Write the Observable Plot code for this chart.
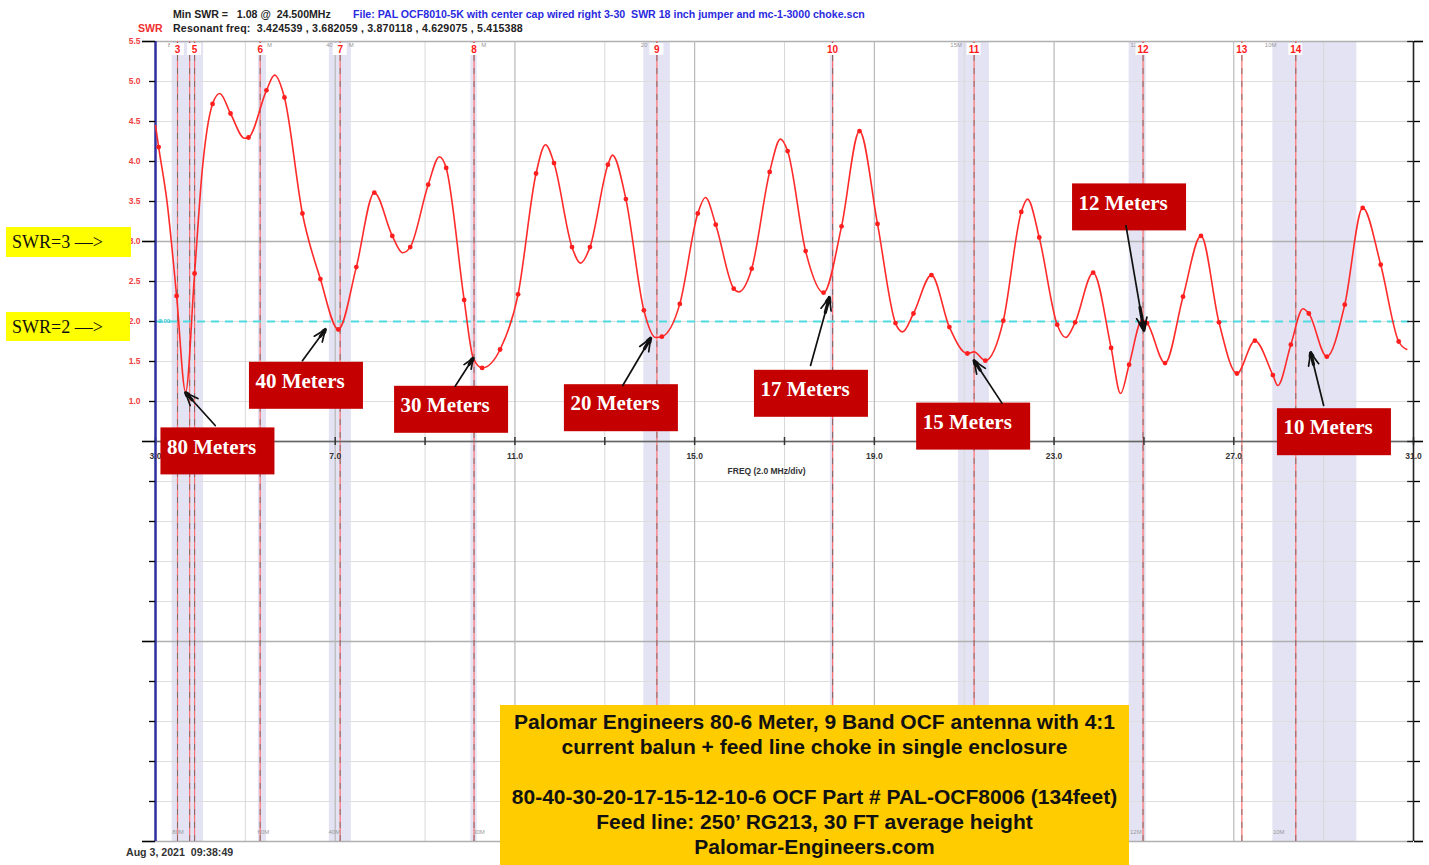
<!DOCTYPE html>
<html><head><meta charset="utf-8">
<script src="https://cdn.jsdelivr.net/npm/d3@7"></script>
<script src="https://cdn.jsdelivr.net/npm/@observablehq/plot@0.6"></script>
<style>
body{margin:0;background:#fff;overflow:hidden}
#wrap{position:relative;width:1429px;height:865px}
#wrap svg{position:absolute;left:0;top:0}
.ov{position:absolute;white-space:pre;line-height:1}
.hdr{font-family:"Liberation Sans",Arial,sans-serif;font-weight:bold;font-size:10.6px;color:#222}
.ybox{background:#ffff00;font-family:"Liberation Serif","Times New Roman",serif;font-size:18px;color:#111;box-sizing:border-box;padding-left:6px;display:flex;align-items:center}
#info{left:500px;top:705px;width:629px;height:160px;background:#ffcc00;font-family:"Liberation Sans Narrow","Liberation Sans",Arial,sans-serif;font-weight:bold;font-size:21px;color:#111;text-align:center;line-height:25px;padding-top:4px;box-sizing:border-box;white-space:normal}
</style></head><body><div id="wrap"></div>
<script>
// ---- SWR curve: sample points with dots
const dotFreq = [3.07,3.47,3.87,4.27,4.67,5.07,5.47,5.87,6.27,6.67,7.07,7.47,7.87,8.27,8.67,9.07,9.47,9.87,10.27,10.67,11.07,11.47,11.87,12.27,12.67,13.07,13.47,13.87,14.27,14.67,15.07,15.47,15.87,16.27,16.67,17.07,17.47,17.87,18.27,18.67,19.07,19.47,19.87,20.27,20.67,21.07,21.47,21.87,22.27,22.67,23.07,23.47,23.87,24.27,24.67,25.07,25.47,25.87,26.27,26.67,27.07,27.47,27.87,28.27,28.67,29.07,29.47,29.87,30.27,30.67];
const dotSwr  = [4.18,2.32,2.60,4.72,4.60,4.30,4.89,4.80,3.35,2.53,1.90,2.68,3.61,3.07,2.93,3.71,3.92,2.27,1.42,1.65,2.34,3.85,3.98,2.93,2.93,3.96,3.53,2.14,1.81,2.22,3.35,3.21,2.41,2.66,3.87,4.13,2.88,2.36,3.19,4.38,3.22,1.98,2.10,2.58,1.93,1.60,1.51,2.01,3.37,3.05,1.96,1.99,2.61,1.67,1.46,1.98,1.48,2.31,3.07,1.99,1.35,1.76,1.33,1.71,2.10,1.56,2.21,3.42,2.71,1.75];
// ---- turning points of the curve between the dots
const peakFreq = [3.00,3.26,3.67,4.04,4.43,4.98,5.65,8.50,9.32,10.07,11.68,12.46,13.17,14.13,15.24,15.98,16.91,19.63,21.22,22.41,23.26,24.48,24.96,27.98,28.54,30.85];
const peakSwr  = [4.45,3.48,1.12,3.89,4.85,4.29,5.08,2.86,4.06,1.55,4.21,2.73,4.08,1.80,3.55,2.37,4.28,1.87,1.62,3.53,1.80,1.10,2.02,1.20,2.16,1.65];

// ---- ham bands (shaded)
const bandLo = [3.37,5.29,6.87,10.02,13.87,18.02,20.87,24.67,27.87];
const bandHi = [4.07,5.47,7.36,10.16,14.46,18.11,21.56,25.05,29.74];
// ---- markers
const markerNum  = ["3","","5","6","7","8","9","10","11","12","13","14"];
const markerFreq = [3.49,3.76,3.87,5.33,7.11,10.09,14.16,18.07,21.22,24.98,27.18,28.38];
// ---- small band tags
const tagBottom = ["80M","60M","40M","30M","12M","10M"];
const tagBottomFreq = [3.50,5.40,6.98,10.20,24.82,28.00];
const tagTopL = ["80","40","20","15M","12","10M"];
const tagTopLFreq = [3.42,6.95,13.95,20.95,24.85,27.95];
const tagTopR = ["M","M","M"];
const tagTopRFreq = [5.48,7.30,10.25];

// ---- axes
const yMinor = [5.0,4.5,4.0,3.5,2.5,2.0,1.5,1.0,0.0,-0.5,-1.0,-1.5,-2.5,-3.0,-3.5,-4.0];
const yMajor = [5.5,3.0,0.5,-2.0,-4.5];
const yLabels = [5.5,5.0,4.5,4.0,3.5,3.0,2.5,2.0,1.5,1.0];
const xMinor = [5,9,13,17,21,25,29];
const xMajor = [7,11,15,19,23,27];
const xLabels = [3,7,11,15,19,23,27,31];
const xTicks = [3,5,7,9,11,13,15,17,19,21,23,25,27,29,31];

// ---- annotations
const bandName = ["80 Meters","40 Meters","30 Meters","20 Meters","17 Meters","15 Meters","12 Meters","10 Meters"];
const boxFreq = [4.39,6.36,9.59,13.37,17.60,21.21,24.68,29.24];
const boxSwr  = [0.37,1.19,0.89,0.91,1.09,0.68,3.42,0.61];
const arrowFromF = [4.33,6.27,9.67,13.40,17.58,21.84,24.60,29.00];
const arrowFromS = [0.70,1.51,1.19,1.20,1.45,0.98,3.20,0.95];
const arrowToF   = [3.67,6.78,10.07,14.02,18.00,21.22,25.00,28.71];
const arrowToS   = [1.11,1.90,1.54,1.79,2.30,1.51,1.89,1.61];

const dots = dotFreq.map((f,i)=>({f, s:dotSwr[i]}));
const curvePts = dots.concat(peakFreq.map((f,i)=>({f, s:peakSwr[i]}))).sort((a,b)=>a.f-b.f);
const bands = bandLo.map((lo,i)=>({lo, hi:bandHi[i]}));
const markers = markerFreq.map((f,i)=>({f, n:markerNum[i]}));
const labeled = markers.filter(d=>d.n!=="");
const boxes = bandName.map((t,i)=>({t, f:boxFreq[i], s:boxSwr[i]}));
const arrows = arrowFromF.map((f,i)=>({x1:f, y1:arrowFromS[i], x2:arrowToF[i], y2:arrowToS[i]}));
// short thick tip segments to make the heads look solid
const tips = arrows.map(a=>({x1:a.x2-(a.x2-a.x1)*0.22, y1:a.y2-(a.y2-a.y1)*0.22, x2:a.x2, y2:a.y2}));
const tagsB = tagBottom.map((t,i)=>({t, f:tagBottomFreq[i]}));
const tagsL = tagTopL.map((t,i)=>({t, f:tagTopLFreq[i]}));
const tagsR = tagTopR.map((t,i)=>({t, f:tagTopRFreq[i]}));

const sans = "'Liberation Sans', Arial, sans-serif";
const plot = Plot.plot({
  width:1429, height:865,
  marginLeft:155, marginRight:16, marginTop:41, marginBottom:24,
  x:{domain:[3,31], axis:null},
  y:{domain:[-4.5,5.5]},
  style:{fontFamily:sans, background:"transparent", overflow:"visible"},
  marks:[
    Plot.rect(bands,{x1:"lo", x2:"hi", y1:-4.5, y2:5.5, fill:"#e3e3f3"}),
    Plot.ruleY(yMinor,{stroke:"#dedede", strokeWidth:1.2}),
    Plot.ruleX(xMinor,{stroke:"#d8d8d8", strokeWidth:1}),
    Plot.ruleY(yMajor,{stroke:"#b0b0b0", strokeWidth:1.6}),
    Plot.ruleX(xMajor,{stroke:"#b8b8b8", strokeWidth:1.2}),
    Plot.ruleX(markers,{x:"f", y1:-4.5, y2:5.5, stroke:"#ff7070", strokeWidth:1.2}),
    Plot.ruleX(markers,{x:"f", y1:-4.5, y2:5.5, stroke:"#666", strokeWidth:1, strokeDasharray:"6,7", strokeOpacity:0.8}),
    Plot.ruleY([2],{stroke:"#4fdbe0", strokeWidth:2, strokeDasharray:"8,6"}),
    Plot.ruleY([0.5],{stroke:"#666", strokeWidth:1.6}),
    Plot.ruleX(xTicks,{x:d=>d, y1:0.45, y2:0.55, stroke:"#333", strokeWidth:1.5}),
    Plot.ruleX([3],{stroke:"#2e2e9e", strokeWidth:2.5}),
    Plot.ruleX([31],{stroke:"#222", strokeWidth:1.6}),
    Plot.axisY(yMinor,{anchor:"left", tickSize:6, tickFormat:()=>"", strokeWidth:1.3}),
    Plot.axisY(yMajor,{anchor:"left", tickSize:13, tickFormat:()=>"", strokeWidth:1.6}),
    Plot.axisY(yMinor,{anchor:"right", tickSize:6, tickFormat:()=>"", strokeWidth:1.3}),
    Plot.axisY(yMajor,{anchor:"right", tickSize:9, tickFormat:()=>"", strokeWidth:1.6}),
    Plot.ruleY(yMinor.concat(yMajor),{y:d=>d, x1:30.87, x2:31, stroke:"#222", strokeWidth:1.3}),
    Plot.text(yLabels,{x:3, y:d=>d, text:d=>d.toFixed(1), dx:-15, textAnchor:"end", fill:"#f04040", fontWeight:"bold", fontSize:8.5}),
    Plot.text(xLabels,{x:d=>d, y:0.5, dy:15, text:d=>d.toFixed(1), fill:"#333", fontWeight:"bold", fontSize:8.5}),
    Plot.text(["FREQ (2.0 MHz/div)"],{x:16.6, y:0.5, dy:30, text:d=>d, fill:"#333", fontWeight:"bold", fontSize:8.5}),
    Plot.text(["2.00"],{x:3, y:2, dx:3, text:d=>d, textAnchor:"start", fill:"#30c8d0", fontWeight:"bold", fontSize:6}),
    Plot.text(tagsB,{x:"f", y:-4.5, dy:-9, text:"t", fill:"#999", fontSize:6}),
    Plot.text(tagsL,{x:"f", y:5.5, dy:4, text:"t", textAnchor:"end", fill:"#999", fontSize:6}),
    Plot.text(tagsR,{x:"f", y:5.5, dy:4, text:"t", textAnchor:"start", fill:"#999", fontSize:6}),
    Plot.line(curvePts,{x:"f", y:"s", curve:"monotone-x", stroke:"#ff2b2b", strokeWidth:1.6}),
    Plot.dot(dots,{x:"f", y:"s", r:2.4, fill:"#ff1e1e", stroke:"none"}),
    Plot.rect(labeled,{x1:"f", x2:"f", y1:5.4, y2:5.4, insetLeft:-7, insetRight:-7, insetTop:-6, insetBottom:-6, fill:"white"}),
    Plot.text(labeled,{x:"f", y:5.4, text:"n", fill:"#ff1a1a", fontWeight:"bold", fontSize:10}),
    Plot.rect(boxes,{x1:"f", x2:"f", y1:"s", y2:"s", insetLeft:-57, insetRight:-57, insetTop:-24, insetBottom:-23, fill:"#c50000"}),
    Plot.text(boxes,{x:"f", y:"s", text:"t", dx:-51, dy:-5, textAnchor:"start", fill:"white", fontFamily:"'Liberation Serif','DejaVu Serif',serif", fontWeight:"bold", fontSize:21}),
    Plot.arrow(arrows,{x1:"x1", y1:"y1", x2:"x2", y2:"y2", stroke:"#111", strokeWidth:1.7, headLength:12, headAngle:45}),
    Plot.arrow(tips,{x1:"x1", y1:"y1", x2:"x2", y2:"y2", stroke:"#111", strokeWidth:3.2, headLength:9, headAngle:40})
  ]
});
const wrap = document.getElementById("wrap");
wrap.appendChild(plot);

function ov(text, css, cls){
  const d = document.createElement("div");
  d.className = "ov " + (cls||"");
  d.textContent = text;
  Object.assign(d.style, css);
  wrap.appendChild(d);
  return d;
}
ov("Min SWR =   1.08 @  24.500MHz",{left:"173px",top:"9px"},"hdr");
ov("File: PAL OCF8010-5K with center cap wired right 3-30  SWR 18 inch jumper and mc-1-3000 choke.scn",{left:"353px",top:"9px",color:"#2a2ae0"},"hdr");
ov("SWR",{left:"138px",top:"23px",color:"#f03030"},"hdr");
ov("Resonant freq:  3.424539 , 3.682059 , 3.870118 , 4.629075 , 5.415388",{left:"173px",top:"23px",letterSpacing:"0.2px"},"hdr");
ov("Aug 3, 2021  09:38:49",{left:"126px",top:"847px",color:"#333"},"hdr");
ov("SWR=3 —>",{left:"6px",top:"227px",width:"125px",height:"30px"},"ybox");
ov("SWR=2 —>",{left:"6px",top:"312px",width:"124px",height:"29px"},"ybox");
const info = document.createElement("div");
info.id = "info"; info.className = "ov";
["Palomar Engineers 80-6 Meter, 9 Band OCF antenna with 4:1","current balun + feed line choke in single enclosure","\u00a0","80-40-30-20-17-15-12-10-6 OCF Part # PAL-OCF8006 (134feet)","Feed line: 250\u2019 RG213, 30 FT average height","Palomar-Engineers.com"].forEach(t=>{
  const l = document.createElement("div"); l.textContent = t; info.appendChild(l);
});
wrap.appendChild(info);
</script></body></html>
